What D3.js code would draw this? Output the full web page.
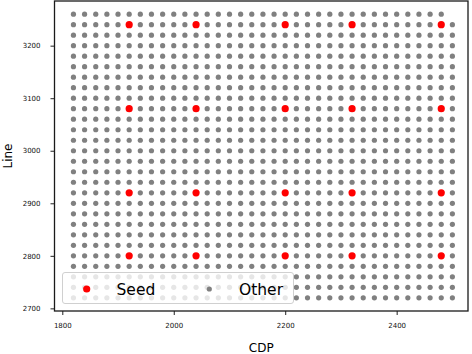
<!DOCTYPE html>
<html>
<head>
<meta charset="UTF-8">
<script src="https://cdn.jsdelivr.net/npm/d3@7"></script>
<style>
    body { margin: 0; background: #fff; }
    text { font-family: 'DejaVu Sans', sans-serif; }
</style>
</head>
<body>
<div id="chart"></div>
<script>
// grid of receivers
const cdpValues = [1820, 1840, 1860, 1880, 1900, 1920, 1940, 1960, 1980, 2000, 2020, 2040,
    2060, 2080, 2100, 2120, 2140, 2160, 2180, 2200, 2220, 2240, 2260, 2280, 2300, 2320,
    2340, 2360, 2380, 2400, 2420, 2440, 2460, 2480, 2500];
const lineValues = [2720, 2740, 2760, 2780, 2800, 2820, 2840, 2860, 2880, 2900, 2920, 2940,
    2960, 2980, 3000, 3020, 3040, 3060, 3080, 3100, 3120, 3140, 3160, 3180, 3200, 3220,
    3240, 3260];
// top line stops one cdp short
const topLineLastCdp = 2480;
// seeds
const seedCdp = [1920, 2040, 2200, 2320, 2480];
const seedLine = [2800, 2920, 3080, 3240];
const xTicks = [1800, 2000, 2200, 2400];
const yTicks = [2700, 2800, 2900, 3000, 3100, 3200];

const width = 472, height = 354;
const margin = {left: 54.5, right: 4, top: 1, bottom: 43};

const svg = d3.select("#chart").append("svg")
    .attr("width", width)
    .attr("height", height);

const x = d3.scaleLinear().domain([1786, 2528]).range([margin.left, width - margin.right]);
const y = d3.scaleLinear().domain([2695, 3285]).range([height - margin.bottom, margin.top]);

const others = [];
lineValues.forEach(l => {
    cdpValues.forEach(c => {
        if (l === d3.max(lineValues) && c > topLineLastCdp) return;
        others.push({cdp: c, line: l});
    });
});
const seeds = [];
seedLine.forEach(l => seedCdp.forEach(c => seeds.push({cdp: c, line: l})));

svg.append("g").selectAll("circle")
    .data(others)
    .enter()
    .append("circle")
    .attr("cx", d => x(d.cdp))
    .attr("cy", d => y(d.line))
    .attr("r", 2.6)
    .attr("fill", "#808080");

svg.append("g").selectAll("circle")
    .data(seeds)
    .enter()
    .append("circle")
    .attr("cx", d => x(d.cdp))
    .attr("cy", d => y(d.line))
    .attr("r", 3.6)
    .attr("fill", "#ff0000");

// axes
const xAxis = svg.append("g")
    .attr("transform", `translate(0,${height - margin.bottom})`)
    .call(d3.axisBottom(x).tickValues(xTicks).tickFormat(d3.format("d")).tickSize(4).tickPadding(8));
const yAxis = svg.append("g")
    .attr("transform", `translate(${margin.left},0)`)
    .call(d3.axisLeft(y).tickValues(yTicks).tickFormat(d3.format("d")).tickSize(4).tickPadding(10));
[xAxis, yAxis].forEach(a => {
    a.select(".domain").remove();
    a.selectAll("line").attr("stroke", "#222").attr("stroke-width", 1);
    a.selectAll("text").attr("font-size", 7).attr("fill", "#111")
        .attr("font-family", "'DejaVu Sans', sans-serif");
});

// frame
svg.append("rect")
    .attr("x", margin.left)
    .attr("y", margin.top)
    .attr("width", width - margin.left - margin.right)
    .attr("height", height - margin.top - margin.bottom)
    .attr("fill", "none")
    .attr("stroke", "#1a1a1a")
    .attr("stroke-width", 1.3);

svg.append("text")
    .attr("x", (margin.left + width - margin.right) / 2)
    .attr("y", 352)
    .attr("text-anchor", "middle")
    .attr("font-size", 12)
    .text("CDP");
svg.append("text")
    .attr("transform", `translate(12,${(margin.top + height - margin.bottom) / 2}) rotate(-90)`)
    .attr("text-anchor", "middle")
    .attr("font-size", 12)
    .text("Line");

// legend
const legend = svg.append("g");
legend.append("rect")
    .attr("x", 62.5).attr("y", 272.5)
    .attr("width", 231).attr("height", 31)
    .attr("rx", 2.5)
    .attr("fill", "rgba(255,255,255,0.8)")
    .attr("stroke", "#d0d0d0");
legend.append("circle").attr("cx", 86.7).attr("cy", 289).attr("r", 3.6).attr("fill", "#ff0000");
legend.append("text").attr("x", 116.5).attr("y", 294.5).attr("font-size", 15.5).text("Seed");
legend.append("circle").attr("cx", 209.3).attr("cy", 289).attr("r", 2.6).attr("fill", "#808080");
legend.append("text").attr("x", 239).attr("y", 294.5).attr("font-size", 15.5).text("Other");
</script>
</body>
</html>
